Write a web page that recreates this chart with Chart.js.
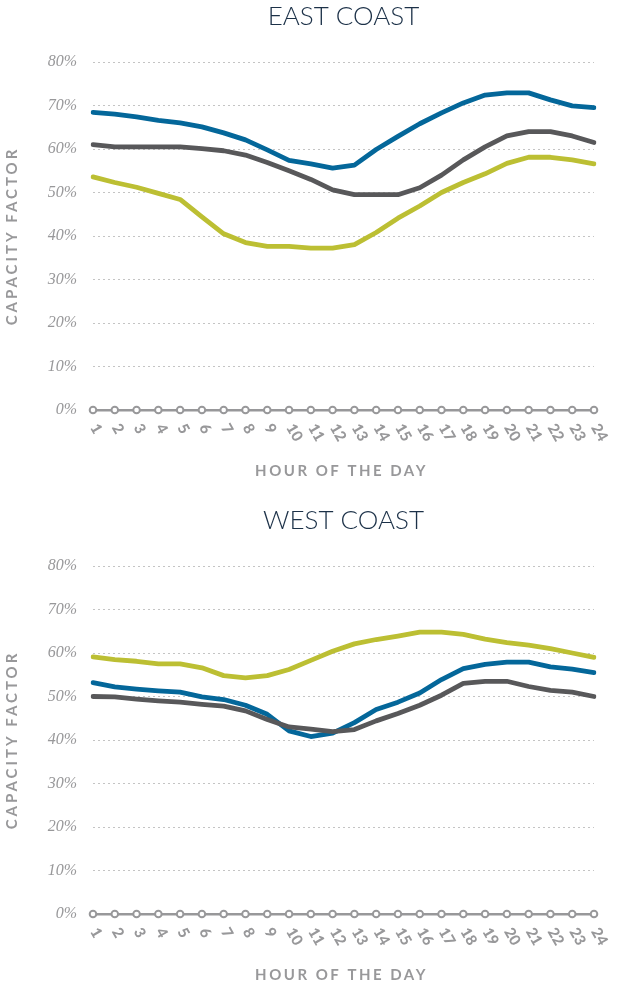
<!DOCTYPE html>
<html>
<head>
<meta charset="utf-8">
<script src="https://cdn.jsdelivr.net/npm/chart.js@4/dist/chart.umd.min.js"></script>
<style>
  html, body { margin: 0; padding: 0; background: #fff; overflow: hidden; }
  .panel { position: absolute; left: 0; width: 626px; height: 504px; }
</style>
</head>
<body>
<div class="panel" style="top:0"><canvas id="east"></canvas></div>
<div class="panel" style="top:504px"><canvas id="west"></canvas></div>
<script>
const horas = ["1","2","3","4","5","6","7","8","9","10","11","12","13","14","15","16","17","18","19","20","21","22","23","24"];
const yTicks = [0, 10, 20, 30, 40, 50, 60, 70, 80];

const eastBlue  = [68.4, 68.0, 67.4, 66.6, 66.0, 65.1, 63.7, 62.1, 59.8, 57.4, 56.6, 55.6, 56.3, 59.9, 62.9, 65.8, 68.3, 70.6, 72.4, 72.9, 72.9, 71.3, 69.9, 69.5];
const eastGray  = [61.0, 60.5, 60.5, 60.5, 60.5, 60.1, 59.6, 58.6, 56.9, 55.0, 53.0, 50.6, 49.5, 49.5, 49.5, 51.1, 54.0, 57.5, 60.5, 63.0, 64.0, 64.0, 63.0, 61.5];
const eastGreen = [53.6, 52.3, 51.2, 49.8, 48.4, 44.4, 40.5, 38.5, 37.6, 37.6, 37.2, 37.2, 38.0, 40.8, 44.1, 46.9, 50.0, 52.3, 54.3, 56.7, 58.1, 58.1, 57.5, 56.6];

const westBlue  = [53.2, 52.2, 51.7, 51.3, 51.0, 49.9, 49.3, 48.0, 45.9, 42.1, 40.8, 41.6, 44.0, 47.0, 48.7, 50.8, 53.9, 56.4, 57.4, 57.9, 57.9, 56.8, 56.3, 55.5];
const westGray  = [50.0, 49.9, 49.4, 49.0, 48.7, 48.2, 47.8, 46.7, 44.7, 43.0, 42.5, 41.9, 42.4, 44.4, 46.1, 48.0, 50.3, 53.0, 53.5, 53.5, 52.3, 51.4, 51.0, 50.0];
const westGreen = [59.1, 58.5, 58.1, 57.5, 57.5, 56.6, 54.8, 54.3, 54.8, 56.2, 58.3, 60.4, 62.1, 63.1, 63.9, 64.8, 64.8, 64.3, 63.2, 62.4, 61.8, 61.0, 60.0, 59.0];

const corAzul = "#04679a";
const corCinza = "#58585a";
const corVerde = "#bcbf33";
const corTexto = "#98989a";

// desenha rotulos do eixo x, bolinhas na linha do zero e titulos dos eixos
const extras = {
    id: "extras",
    afterDraw(chart) {
        const ctx = chart.ctx;
        const x = chart.scales.x;
        const y = chart.scales.y;
        const area = chart.chartArea;
        const y0 = y.getPixelForValue(0);

        ctx.save();
        x.ticks.forEach((t, i) => {
            const px = x.getPixelForTick(i);
            ctx.beginPath();
            ctx.arc(px, y0, 3.3, 0, Math.PI * 2);
            ctx.fillStyle = "#fff";
            ctx.fill();
            ctx.lineWidth = 2;
            ctx.strokeStyle = corTexto;
            ctx.stroke();

            ctx.save();
            ctx.translate(px + 1, area.bottom + 15);
            ctx.rotate(Math.PI / 3);
            ctx.font = "900 15px Lato, sans-serif";
            ctx.fillStyle = corTexto;
            ctx.textAlign = "left";
            ctx.textBaseline = "middle";
            ctx.fillText(x.getLabelForValue(t.value), 0, 0);
            ctx.restore();
        });

        ctx.font = "bold 15px Lato, sans-serif";
        ctx.fillStyle = corTexto;
        ctx.textAlign = "center";
        ctx.textBaseline = "middle";
        ctx.letterSpacing = "2.5px";
        ctx.fillText("HOUR OF THE DAY", (area.left + area.right) / 2 - 2, 471);

        ctx.save();
        ctx.translate(12, (area.top + area.bottom) / 2);
        ctx.rotate(-Math.PI / 2);
        ctx.letterSpacing = "3px";
        ctx.fillText("CAPACITY FACTOR", 0, 0);
        ctx.restore();
        ctx.restore();
    }
};

function criaGrafico(id, titulo, azul, cinza, verde) {
    return new Chart(document.getElementById(id), {
        type: "line",
        data: {
            labels: horas,
            datasets: [
                { label: "Cinza", data: cinza, borderColor: corCinza },
                { label: "Azul", data: azul, borderColor: corAzul },
                { label: "Verde", data: verde, borderColor: corVerde }
            ]
        },
        options: {
            responsive: true,
            maintainAspectRatio: false,
            animation: false,
            layout: { padding: { left: 0, right: 32, top: 0, bottom: 0 } },
            elements: {
                line: { borderWidth: 4.8, tension: 0, borderCapStyle: "round", borderJoinStyle: "round" },
                point: { radius: 0, hoverRadius: 0 }
            },
            plugins: {
                legend: { display: false },
                tooltip: { enabled: false },
                title: {
                    display: true,
                    text: titulo,
                    fullSize: false,
                    color: "#1c3148",
                    font: { family: "Lato", size: 26, weight: 300, lineHeight: 1.2 },
                    padding: { top: 1, bottom: 29.8 }
                }
            },
            scales: {
                x: {
                    grid: { display: false },
                    border: { display: false },
                    ticks: { display: false },
                    afterFit(s) { s.height = 94; }
                },
                y: {
                    min: 0,
                    max: 80,
                    afterBuildTicks(s) { s.ticks = yTicks.map(v => ({ value: v })); },
                    afterFit(s) { s.width = 93; },
                    border: {
                        display: false,
                        dash: c => (c.tick && c.tick.value === 0) ? [] : [2, 3]
                    },
                    grid: {
                        drawTicks: false,
                        color: c => (c.tick && c.tick.value === 0) ? corTexto : "#c4c4c4",
                        lineWidth: c => (c.tick && c.tick.value === 0) ? 2.5 : 1
                    },
                    ticks: {
                        padding: 16,
                        color: corTexto,
                        font: { family: "Liberation Serif", style: "italic", size: 16 },
                        callback: v => v + "%"
                    }
                }
            }
        },
        plugins: [extras]
    });
}

criaGrafico("east", "EAST COAST", eastBlue, eastGray, eastGreen);
criaGrafico("west", "WEST COAST", westBlue, westGray, westGreen);
</script>
</body>
</html>
